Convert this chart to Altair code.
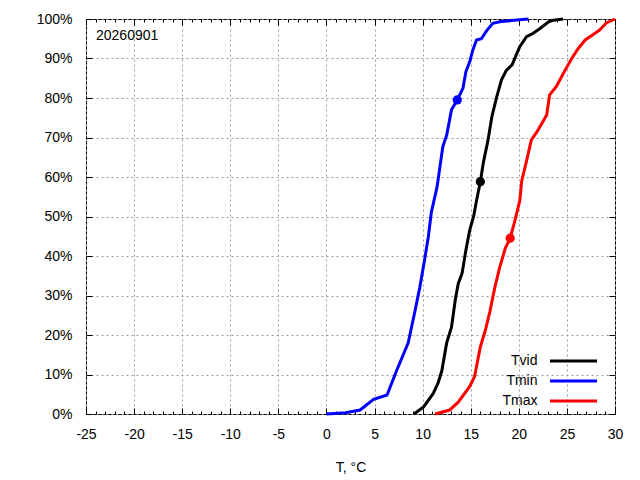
import altair as alt
import pandas as pd

FONT = "Liberation Sans"

series = ["Tvid", "Tmin", "Tmax"]
colors = ["#000000", "#0000ff", "#ff0000"]

tvid_t = [9.1, 10.1, 11.1, 11.6, 12.0, 12.5, 13.0, 13.4, 13.7, 14.1, 14.5, 14.9, 15.3, 15.6, 16.0,
          16.3, 16.8, 17.2, 17.7, 18.2, 18.7, 19.3, 19.8, 20.1, 20.8, 21.5, 22.2, 23.1, 23.6, 24.6]
tvid_p = [0, 1.8, 5.2, 7.8, 11, 18, 22, 29, 33, 35.6, 41.5, 46.6, 50, 54, 58.8,
          63.5, 69.4, 75.3, 80.3, 84.6, 87, 88.4, 91.3, 93, 95.5, 96.4, 97.6, 99.3, 99.7, 100]

tmin_t = [0, 2.0, 3.5, 4.9, 6.3, 7.3, 8.5, 9.2, 9.7, 10.2, 10.6, 10.9, 11.5, 12.1, 12.5, 13.0, 13.6,
          14.2, 14.5, 14.9, 15.2, 15.6, 16.1, 16.7, 17.3, 18.0, 19.5, 21.0]
tmin_p = [0, 0.3, 1, 3.7, 4.8, 11, 18, 26, 32, 39, 45, 51, 57.5, 67.7, 70.6, 77, 79.5,
          82.5, 86.7, 89.2, 92, 94.7, 95, 97.2, 98.9, 99.3, 99.7, 100]

tmax_t = [11.3, 12.8, 13.7, 14.9, 15.4, 16.0, 16.5, 17.0, 17.5, 18.0, 18.6, 19.1, 19.6, 20.1, 20.3,
          20.8, 21.3, 21.9, 22.9, 23.2, 23.9, 24.8, 25.5, 26.2, 26.9, 27.7, 28.4, 29.1, 30.0]
tmax_p = [0, 1, 3, 7, 9.5, 17, 21, 26, 32, 37, 42, 44.5, 49, 54, 59,
          64, 69.4, 71.5, 75.7, 80.8, 82.9, 87, 90, 92.6, 94.7, 96, 97.2, 99, 100]

marker_series = ["Tvid", "Tmin", "Tmax"]
marker_t = [16.0, 13.6, 19.1]
marker_p = [58.8, 79.5, 44.5]

x_major = list(range(-25, 31, 5))
x_minor = list(range(-25, 31, 1))
y_major = list(range(0, 101, 10))
date_label = "20260901"
x_title = "T, °C"

rows = []
for name, ts, ps in [("Tvid", tvid_t, tvid_p), ("Tmin", tmin_t, tmin_p), ("Tmax", tmax_t, tmax_p)]:
    for i, (t, p) in enumerate(zip(ts, ps)):
        rows.append({"series": name, "T": t, "P": p, "order": i})
lines_df = pd.DataFrame(rows)
marks_df = pd.DataFrame({"series": marker_series, "T": marker_t, "P": marker_p})

xscale = alt.Scale(domain=[-25, 30], nice=False, zero=False)
yscale = alt.Scale(domain=[0, 100], nice=False, zero=False)

common = dict(domain=False, tickColor="black", tickWidth=1, labelFont=FONT,
              labelFontSize=14, labelColor="black")

x_bottom_major = alt.Axis(orient="bottom", values=x_major, tickSize={"expr": "-6"},
                          labelExpr="'' + datum.value", labelBaseline="alphabetic",
                          labelPadding=30, grid=True, gridColor="#999999",
                          gridDash=[2, 3], gridWidth=1, title=x_title,
                          titleFont=FONT, titleFontSize=14, titleFontWeight="normal",
                          titleColor="black", titleBaseline="alphabetic", titleY=57,
                          labelFlush=False, **common)
x_bottom_minor = alt.Axis(orient="bottom", values=x_minor, tickSize={"expr": "-3"},
                          labels=False, grid=False, title=None, **common)
x_top_major = alt.Axis(orient="top", values=x_major, tickSize={"expr": "-6"},
                       labels=False, grid=False, title=None, **common)
x_top_minor = alt.Axis(orient="top", values=x_minor, tickSize={"expr": "-3"},
                       labels=False, grid=False, title=None, **common)
y_left = alt.Axis(orient="left", values=y_major, tickSize={"expr": "-6"},
                  labelExpr="datum.value + '%'", labelPadding=20, grid=True,
                  gridColor="#999999", gridDash=[2, 3], gridWidth=1, title=None, **common)
y_right = alt.Axis(orient="right", values=y_major, tickSize={"expr": "-6"},
                   labels=False, grid=False, title=None, **common)

legend = alt.Legend(title=None, orient="none", legendX=464, legendY=335,
                    symbolType="M-10,0L10,0", symbolSize=22.1, symbolStrokeWidth=3,
                    symbolOffset=16.5, labelAlign="right", labelOffset={"expr": "-43"},
                    labelFont=FONT, labelFontSize=14, labelColor="black",
                    rowPadding=6, padding=0)

lines = alt.Chart(lines_df).mark_line(strokeWidth=3).encode(
    x=alt.X("T:Q", scale=xscale, axis=x_bottom_major),
    y=alt.Y("P:Q", scale=yscale, axis=y_left),
    color=alt.Color("series:N", scale=alt.Scale(domain=series, range=colors), legend=legend),
    order="order:Q",
)

dots = alt.Chart(marks_df).mark_circle(size=85, opacity=1).encode(
    x=alt.X("T:Q", scale=xscale, axis=x_bottom_minor),
    y=alt.Y("P:Q", scale=yscale, axis=y_right),
    fill=alt.Fill("series:N", scale=alt.Scale(domain=series, range=colors), legend=None),
)

top1 = alt.Chart(marks_df).mark_point(opacity=0).encode(
    x=alt.X("T:Q", scale=xscale, axis=x_top_major),
    y=alt.Y("P:Q", scale=yscale, axis=None),
)
top2 = alt.Chart(marks_df).mark_point(opacity=0).encode(
    x=alt.X("T:Q", scale=xscale, axis=x_top_minor),
    y=alt.Y("P:Q", scale=yscale, axis=None),
)

label = alt.Chart(pd.DataFrame({"text": [date_label]})).mark_text(
    align="left", baseline="alphabetic", font=FONT, fontSize=14, color="black"
).encode(text="text:N", x=alt.value(10), y=alt.value(21))

chart = alt.layer(lines, dots, top1, top2, label).resolve_axis(
    x="independent", y="independent"
).properties(
    width=529, height=395,
    autosize=alt.AutoSizeParams(type="none"),
    padding={"left": 78, "top": 11, "right": 10, "bottom": 60},
    background="white",
).configure_view(stroke="black", strokeWidth=1)

chart.save("out.html", embed_options={"renderer": "svg", "actions": False})
